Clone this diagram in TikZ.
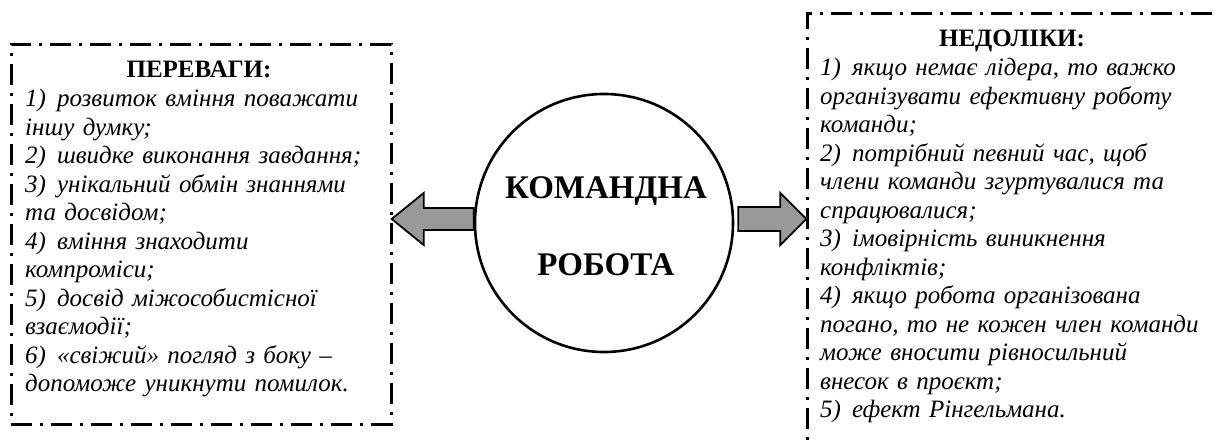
\documentclass[tikz,border=0pt]{standalone}
\usepackage{fontspec}
\setmainfont{Liberation Serif}
\usetikzlibrary{calc}
\definecolor{arrowgray}{RGB}{153,153,153}
\begin{document}
\begin{tikzpicture}[x=1pt,y=-1pt,
  dashbox/.style={draw, line width=2.6pt, dash pattern=on 21pt off 8pt on 3pt off 8pt, inner sep=0pt, anchor=north west},
  bodytext/.style={anchor=base west, align=left, text width=400pt, inner sep=0pt, font=\fontsize{25}{28.5}\selectfont\itshape},
  headtext/.style={anchor=base, inner sep=0pt, font=\fontsize{25}{28.5}\selectfont\bfseries},
  blockarrow/.style={draw, line width=1.8pt, fill=arrowgray, line join=miter},
  bigcircle/.style={circle, draw, line width=2.6pt, minimum size=258pt, inner sep=0pt},
  circtext/.style={align=center, inner sep=0pt, font=\fontsize{33}{77}\selectfont\bfseries}
]
\useasboundingbox (0,0) rectangle (1219,441);
\fill[white] (0,0) rectangle (1219,441);
\clip (0,0) rectangle (1219,441);

% left box
\node[dashbox, minimum width=380pt, minimum height=380pt] (pbox) at (10,43) {};
\node[headtext] (phead) at (199,78) {ПЕРЕВАГИ:};
\node[bodytext] (pbody) at (25,107) {1)\hspace{11pt}розвиток вміння поважати\\
іншу думку;\\
2)\hspace{11pt}швидке виконання завдання;\\
3)\hspace{11pt}унікальний обмін знаннями\\
та досвідом;\\
4)\hspace{11pt}вміння знаходити\\
компроміси;\\
5)\hspace{11pt}досвід міжособистісної\\
взаємодії;\\
6)\hspace{11pt}«свіжий» погляд з боку –\\
допоможе уникнути помилок.};

% right box
\node[dashbox, minimum width=412.5pt, minimum height=460pt] (nbox) at (806,12) {};
\node[headtext] (nhead) at (1012,47) {НЕДОЛІКИ:};
\node[bodytext] (nbody) at (820,76) {1)\hspace{11pt}якщо немає лідера, то важко\\
організувати ефективну роботу\\
команди;\\
2)\hspace{11pt}потрібний певний час, щоб\\
члени команди згуртувалися та\\
спрацювалися;\\
3)\hspace{11pt}імовірність виникнення\\
конфліктів;\\
4)\hspace{11pt}якщо робота організована\\
погано, то не кожен член команди\\
може вносити рівносильний\\
внесок в проєкт;\\
5)\hspace{11pt}ефект Рінгельмана.};

% circle
\node[bigcircle] (circ) at (604,223) {};
\node[circtext] (ctext) at (606,226) {КОМАНДНА\\РОБОТА};

% arrows
\draw[blockarrow] ($(circ.west)+(0,-15)$) -- ++(-50,0) -- ++(0,-15) -- ++(-32,26) -- ++(32,26) -- ++(0,-15) -- ++(50,0) -- cycle;
\draw[blockarrow] ($(circ.east)+(4,-16)$) -- ++(42,0) -- ++(0,-14) -- ++(26,26) -- ++(-26,26) -- ++(0,-14) -- ++(-42,0) -- cycle;
\end{tikzpicture}
\end{document}
